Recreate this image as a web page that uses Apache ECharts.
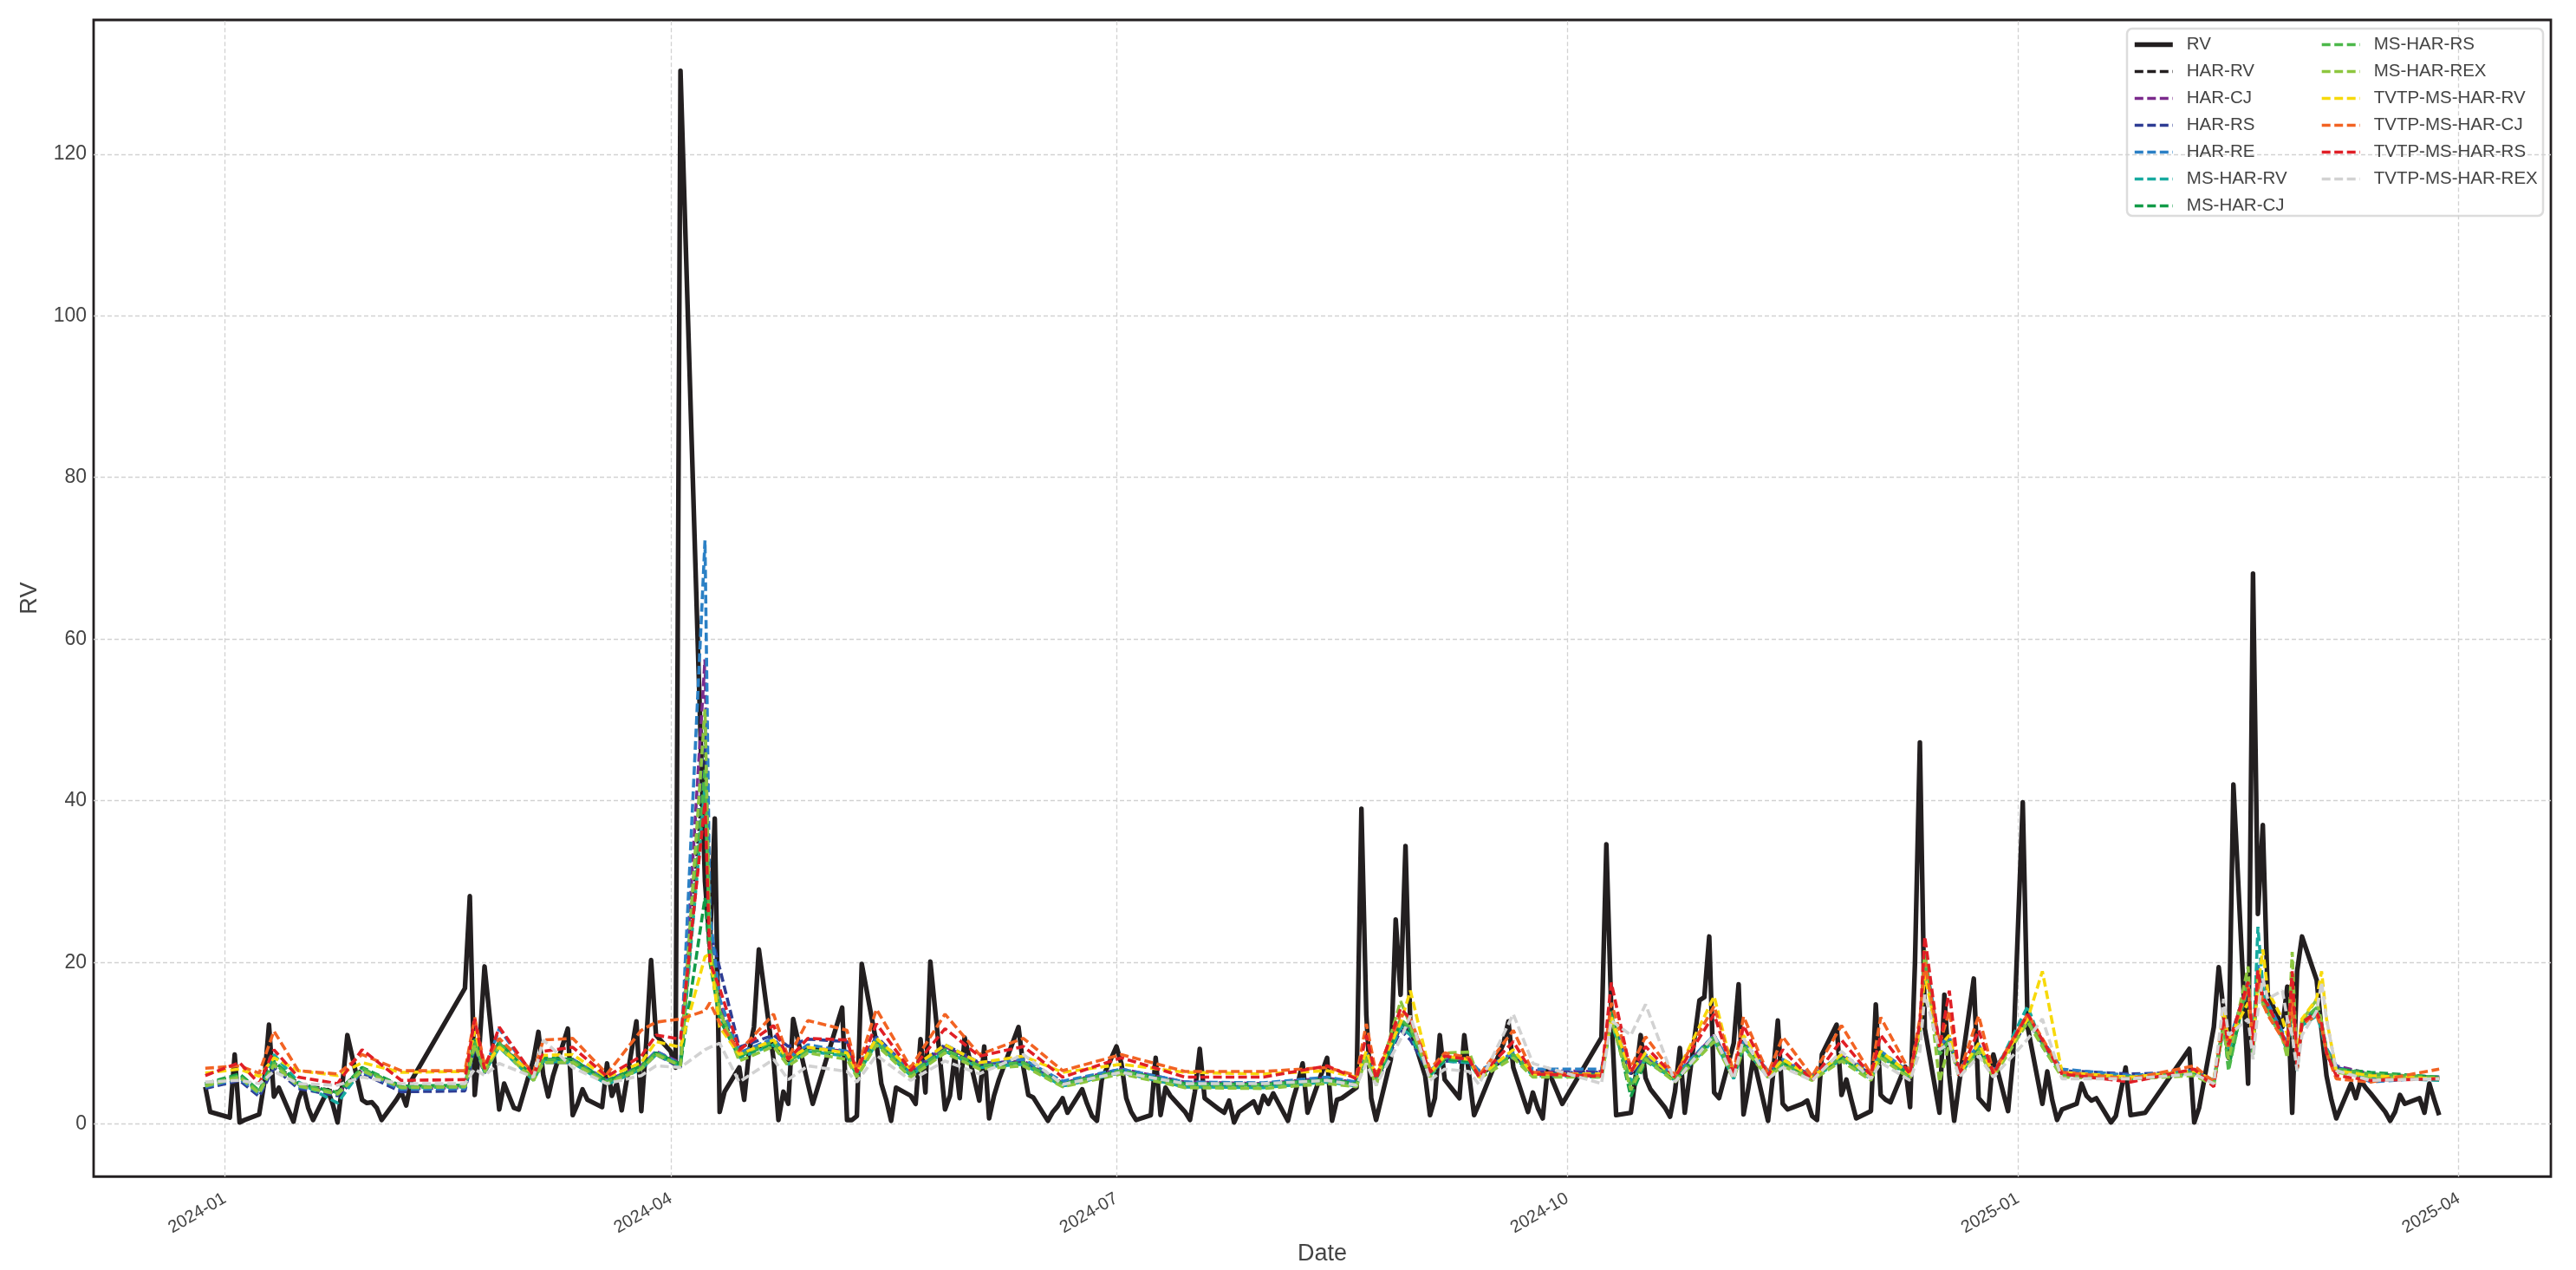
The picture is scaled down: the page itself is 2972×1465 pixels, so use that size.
<!DOCTYPE html>
<html><head><meta charset="utf-8">
<script src="https://cdn.jsdelivr.net/npm/echarts@6/dist/echarts.min.js"></script>
<style>html,body{margin:0;padding:0;background:#fff}#c{width:2972px;height:1465px}</style>
</head><body><div id="c"></div>
<script>
// ---------------- data ----------------
const HOLIDAYS = ['2024-01-01','2024-02-09','2024-02-12','2024-02-13','2024-02-14','2024-02-15','2024-02-16',
 '2024-04-04','2024-04-05','2024-05-01','2024-05-02','2024-05-03','2024-06-10','2024-09-16','2024-09-17',
 '2024-10-01','2024-10-02','2024-10-03','2024-10-04','2024-10-07','2025-01-01','2025-01-28','2025-01-29',
 '2025-01-30','2025-01-31','2025-02-03','2025-02-04'];

// realised volatility, one value per trading day (2023-12-28 .. 2025-03-28)
const RV = [
 4.6,1.5,
 0.8,8.6,0.2,0.5,1.2,5.0,12.3,3.4,4.5,0.3,3.0,4.6,2.0,0.5,4.2,2.5,0.2,5.0,11.0,3.0,2.6,2.7,
 2.0,0.5,3.0,4.0,2.3,5.3,16.8,28.2,3.6,10.0,19.5,1.8,5.0,3.5,2.0,
 1.8,8.0,11.4,6.0,3.4,6.0,11.8,1.1,2.5,4.3,3.0,2.1,7.5,3.5,5.0,1.7,12.7,1.6,10.0,20.3,11.0,
 9.0,7.0,130.3,30.0,22.0,37.8,1.5,4.0,7.0,3.0,9.0,12.0,21.6,8.0,0.5,4.0,2.5,13.0,5.0,2.5,
 14.4,0.5,0.5,1.0,19.8,10.0,5.0,3.0,0.4,4.5,3.5,2.5,10.5,3.9,20.1,1.8,3.5,8.6,3.2,10.7,
 2.9,9.6,0.7,3.5,5.5,12.0,7.0,3.6,3.3,0.4,1.5,2.2,3.2,1.4,4.3,2.5,1.0,0.4,5.5,
 9.6,7.5,3.2,1.5,0.5,1.1,8.2,1.1,4.5,3.5,1.5,0.5,4.0,9.3,3.2,1.8,1.4,2.9,0.2,1.5,2.8,1.4,3.5,
 2.5,3.8,0.4,3.0,5.0,7.5,1.4,6.5,8.2,0.4,3.0,3.2,4.5,39.0,13.5,3.2,0.5,8.0,25.3,16.0,34.4,11.8,
 6.0,1.1,3.2,11.0,5.5,3.2,11.0,6.0,1.1,2.5,10.0,12.7,7.0,1.5,3.9,2.0,0.7,6.8,2.5,
 10.7,34.6,14.0,1.1,1.4,6.0,11.0,5.7,4.3,2.0,0.9,4.0,9.4,1.4,15.3,15.7,23.2,3.9,
 3.2,10.0,17.3,1.2,4.5,8.2,0.4,6.0,12.8,2.5,1.8,2.5,2.9,1.0,0.5,8.6,12.3,3.6,5.5,3.0,0.7,
 1.6,14.8,3.6,3.0,2.7,7.1,2.1,20.0,47.2,11.8,1.4,16.0,6.0,0.4,5.0,18.0,3.2,2.5,1.8,8.6,1.6,8.0,
 39.8,12.0,2.5,6.5,3.0,0.5,1.8,2.5,5.0,3.5,2.9,3.2,0.2,1.0,4.0,7.0,1.1,1.4,
 9.3,0.2,2.0,12.0,19.4,14.0,8.2,42.0,5.0,68.1,26.0,37.0,16.0,12.0,17.0,1.4,18.9,23.2,
 17.8,11.6,6.0,3.0,0.7,5.0,3.2,5.4,4.5,3.8,1.5,0.4,1.5,3.6,2.5,3.2,1.4,5.0,3.0,1.1
];

// forecast series, read at these trading days
const KNOT_DATES = [
 '2023-12-28','2024-01-04','2024-01-08','2024-01-11','2024-01-16','2024-01-24','2024-01-29','2024-02-06','2024-02-19','2024-02-21',
 '2024-02-23','2024-02-26','2024-03-04','2024-03-06','2024-03-12','2024-03-19','2024-03-26','2024-03-29','2024-04-03','2024-04-08',
 '2024-04-09','2024-04-11','2024-04-15','2024-04-22','2024-04-25','2024-04-29','2024-05-07','2024-05-09','2024-05-13','2024-05-20',
 '2024-05-27','2024-06-03','2024-06-12','2024-06-20','2024-07-02','2024-07-15','2024-07-31','2024-08-13','2024-08-19','2024-08-21',
 '2024-08-23','2024-08-28','2024-08-30','2024-09-03','2024-09-06','2024-09-11','2024-09-13','2024-09-20','2024-09-24','2024-10-08',
 '2024-10-10','2024-10-14','2024-10-17','2024-10-23','2024-10-31','2024-11-04','2024-11-06','2024-11-11','2024-11-14','2024-11-20',
 '2024-11-26','2024-12-02','2024-12-04','2024-12-10','2024-12-12','2024-12-13','2024-12-16','2024-12-18','2024-12-20','2024-12-24',
 '2024-12-27','2025-01-03','2025-01-06','2025-01-10','2025-01-24','2025-02-06','2025-02-10','2025-02-12','2025-02-13','2025-02-17',
 '2025-02-18','2025-02-19','2025-02-20','2025-02-21','2025-02-24','2025-02-25','2025-02-26','2025-02-27','2025-02-28','2025-03-03',
 '2025-03-04','2025-03-05','2025-03-07','2025-03-14','2025-03-28'];

const HAR_RV = [5.0,6.0,4.0,7.6,5.0,4.0,6.8,4.5,4.6,10.0, 6.5,9.8,5.6,7.8,7.8,5.3,7.0,8.8,7.4,46, 22,14,8.5,10.2,7.8,9.5,8.6,6.2,10.2,6.2,
 9.4,7.4,7.6,5.0,6.6,5.0,4.9,5.6,5.0,8.6, 5.2,12.0,11.5,6.2,8.0,7.8,6.0,8.6,6.2,6.2, 13.0,6.2,8.2,5.6,10.6,6.2,9.8,6.3,7.6,5.8,
 8.2,6.0,8.6,6.0,11.5,20.0,9.5,10.4,6.4,9.4, 6.2,12.6,10.0,6.2,5.8,6.4,5.2,12.0,9.6,17.0, 9.0,19.0,15.2,14.5,11.0,9.4,15.0,7.0,12.6,13.8,
 12.0,9.0,6.8,6.0,5.6];
const HAR_CJ = [4.8,5.8,3.9,7.4,4.8,3.8,6.6,4.4,4.5,10.5, 6.6,10.0,5.8,8.0,8.0,5.4,7.2,9.0,7.6,57.5, 24,15,8.8,10.5,8.6,9.4,9.0,6.4,10.4,6.4,
 9.6,7.5,7.8,5.1,6.8,5.2,5.0,5.7,5.1,8.8, 5.3,12.4,11.8,6.4,8.2,7.8,6.2,8.8,6.6,6.5, 13.2,6.4,8.4,5.8,11.0,6.4,10.0,6.4,7.8,6.0,
 8.4,6.2,8.8,6.2,11.8,20.5,9.6,10.6,6.6,9.6, 6.6,13.0,10.4,6.6,6.0,6.6,5.4,12.4,9.8,17.4, 9.4,19.6,15.6,14.8,11.2,9.6,15.4,7.2,12.8,14.0,
 12.2,9.2,7.2,6.2,5.8];
const HAR_RS = [4.4,5.4,3.4,7.0,4.4,3.5,6.3,4.0,4.1,9.5, 6.3,9.6,5.6,7.6,7.6,5.2,6.8,8.6,7.0,50, 24,19.3,9.5,11.0,9.6,10.5,10.2,6.8,10.8,6.6,
 9.8,7.6,7.6,4.7,6.4,4.6,4.8,5.4,4.8,8.4, 5.0,11.6,10.4,6.2,7.8,7.6,6.0,8.6,6.3,6.4, 12.8,6.2,8.2,5.6,10.6,6.2,9.8,6.2,7.6,5.7,
 8.2,6.2,8.6,6.0,11.5,19.8,9.4,10.4,6.4,9.4, 6.4,12.6,10.0,6.6,6.2,6.4,5.2,12.2,9.8,17.2, 9.2,19.2,15.4,14.6,11.0,9.4,15.2,7.0,12.6,13.8,
 12.0,9.0,7.0,6.0,5.8];
const HAR_RE = [4.6,5.6,3.7,7.3,4.6,3.7,6.5,4.3,4.4,10.2, 6.5,11.8,5.8,8.0,8.0,5.4,7.0,9.0,7.4,72.2, 26,15.5,8.8,10.6,8.2,9.8,9.0,6.4,10.6,6.4,
 9.8,7.6,8.0,5.3,6.8,5.2,5.1,5.8,5.2,8.8, 5.4,12.2,11.8,6.6,8.2,8.0,6.6,8.8,6.8,6.8, 13.2,6.6,8.6,6.0,11.0,6.6,10.2,6.6,8.0,6.0,
 8.6,6.4,9.0,6.4,12.0,21.0,9.8,10.8,6.8,9.8, 6.6,13.0,10.4,6.8,6.0,6.6,5.4,12.4,10.0,17.6, 9.4,19.8,15.8,15.0,11.4,9.8,15.6,7.4,13.0,14.2,
 12.4,9.4,7.2,5.2,5.8];
const MS_HAR_RV = [4.8,6.0,3.9,8.6,5.2,2.6,6.8,4.5,4.6,10.0, 6.4,9.5,5.4,7.8,7.6,4.9,6.8,8.6,7.2,42, 21,13,8.2,9.8,7.4,9.0,8.4,6.0,10.0,6.0,
 9.0,7.0,7.4,4.7,6.4,4.6,4.5,5.2,4.7,8.4, 5.0,12.0,11.0,6.0,7.8,7.6,5.8,8.4,6.0,5.8, 12.6,5.2,8.0,5.4,10.4,5.6,9.6,5.8,7.4,5.6,
 8.0,5.6,8.4,5.8,11.4,20.5,9.0,10.2,6.0,9.2, 6.0,14.6,9.6,6.0,5.6,6.2,5.0,12.0,9.0,16.8, 8.6,24.4,17.0,13.8,10.6,9.0,14.6,6.6,12.2,13.4,
 11.6,8.6,6.6,5.8,5.4];
const MS_HAR_CJ = [5.0,6.2,4.1,7.8,5.0,3.9,7.0,4.7,4.8,10.5, 6.7,10.2,5.7,8.2,8.0,5.3,7.2,8.8,7.4,28, 20,13,8.4,10.0,7.8,9.2,8.6,6.2,10.2,6.2,
 9.2,7.2,7.6,5.0,6.6,5.0,4.9,5.5,5.0,8.6, 5.2,12.6,11.6,6.2,8.0,7.8,6.0,8.6,6.2,6.0, 14.0,3.4,7.8,5.5,10.8,6.0,9.8,6.0,7.6,5.8,
 8.2,5.8,8.6,6.0,11.6,20.8,8.8,10.4,6.2,9.4, 6.2,13.0,10.0,6.2,5.8,6.4,5.2,12.4,7.0,17.6, 8.8,18.8,15.0,14.0,11.0,8.6,16.8,6.8,12.6,14.0,
 12.0,9.0,6.8,6.4,5.8];
const MS_HAR_RS = [4.9,6.0,4.0,7.6,4.9,3.9,6.9,4.6,4.7,10.2, 6.6,10.0,5.6,8.0,7.8,5.2,7.0,8.8,7.2,44, 22,14,8.5,10.2,7.8,9.2,8.6,6.2,10.2,6.2,
 9.2,7.2,7.6,4.9,6.6,4.8,4.8,5.4,4.9,8.6, 5.1,13.0,11.8,6.2,8.2,8.0,6.0,8.6,6.2,6.0, 13.6,4.6,8.2,5.6,10.8,6.0,9.8,6.0,7.6,5.8,
 8.2,5.8,8.6,6.0,11.6,21.0,8.6,10.4,6.2,9.4, 6.2,13.2,10.0,6.2,5.8,6.4,5.2,12.4,6.6,18.0, 8.8,19.0,15.2,14.2,11.0,8.8,17.4,6.8,12.8,14.4,
 12.2,9.2,6.8,6.2,5.8];
const MS_HAR_REX = [4.7,5.8,3.8,7.3,4.7,3.7,6.6,4.5,4.6,9.8, 6.4,9.6,5.4,7.6,7.6,5.0,6.8,8.6,7.2,51.3, 22,14,7.8,9.6,7.2,8.8,8.0,5.8,9.8,5.8,
 8.8,6.8,7.2,4.6,6.2,4.5,4.4,5.0,4.6,8.2, 4.8,15.2,12.2,5.8,8.8,8.9,5.6,8.2,5.8,5.8, 13.0,4.2,8.0,5.2,10.2,5.6,9.4,5.8,7.2,5.4,
 7.8,5.4,8.2,5.6,11.2,21.5,5.2,10.0,5.8,9.0, 5.8,12.6,9.6,5.8,5.6,6.0,4.8,12.0,8.0,19.5, 8.6,18.6,14.8,13.8,10.6,8.2,21.3,6.6,12.8,15.4,
 12.6,9.0,6.4,5.8,5.6];
const TVTP_MS_HAR_RV = [6.3,6.8,5.9,8.2,6.6,6.0,7.6,6.4,6.5,11.5, 7.2,9.5,6.2,8.5,8.6,5.8,7.6,10.2,9.5,20.7, 21,12,8.6,10.4,8.0,9.5,8.8,6.5,10.6,6.8,
 9.8,7.6,8.4,6.4,7.4,6.4,6.2,6.6,5.8,9.0, 6.0,12.5,16.5,6.4,8.4,8.0,5.8,9.2,6.2,6.2, 13.2,6.4,8.8,5.8,15.8,6.2,11.0,6.0,8.0,5.8,
 8.6,6.0,9.0,6.2,11.8,18.5,9.6,11.0,6.2,10.0, 6.2,13.0,18.9,6.4,5.8,6.6,5.4,14.2,10.4,15.0, 10.0,17.0,21.6,16.5,13.0,11.0,14.8,8.2,13.0,15.5,
 18.9,13.0,6.6,6.0,5.6];
const TVTP_MS_HAR_CJ = [6.9,7.2,6.3,11.5,6.6,6.2,8.6,6.6,6.6,13.2, 7.3,10.6,6.4,10.4,10.6,6.2,11.6,12.6,13.0,14, 15,12.5,9.0,13.6,8.2,12.8,11.6,6.6,14.2,7.0,
 13.6,8.6,10.6,6.6,8.6,6.5,6.5,7.0,6.0,12.4, 6.2,13.5,13.0,6.8,8.8,8.2,6.0,11.6,6.4,6.0, 15.0,7.0,10.8,6.0,14.6,6.4,13.3,6.2,10.8,5.9,
 12.2,6.2,13.2,6.4,13.0,20.0,9.8,14.0,6.2,13.4, 6.4,13.6,10.6,6.4,5.6,7.2,5.2,13.0,9.6,17.0, 9.8,18.6,15.0,13.5,10.6,9.6,15.6,7.0,12.4,13.4,
 12.0,8.8,5.6,5.2,6.8];
const TVTP_MS_HAR_RS = [6.0,7.6,5.0,9.2,5.8,5.0,9.2,5.4,5.5,13.0, 6.8,12.0,6.0,9.0,9.5,5.9,8.4,11.0,10.5,39.8, 20,16.8,9.2,12.2,8.0,10.6,10.4,6.4,12.4,6.6,
 11.8,8.4,9.6,5.8,8.2,5.8,5.8,7.2,5.6,11.0, 5.6,14.3,13.0,6.4,8.4,8.0,5.8,10.2,6.2,5.9, 17.5,6.4,9.6,5.8,13.6,6.0,12.2,6.0,9.2,5.4,
 10.4,6.0,11.0,6.2,12.4,23.2,9.5,16.5,6.0,11.6, 6.2,13.6,10.4,6.2,5.2,6.8,4.6,13.2,9.8,17.6, 9.6,19.0,15.6,14.8,11.0,9.6,18.9,6.8,12.6,13.8,
 12.4,8.8,6.0,5.4,5.6];
const TVTP_MS_HAR_REX = [5.2,5.4,5.0,6.5,5.0,4.8,5.8,5.0,5.0,6.8, 6.0,7.5,5.8,10.4,7.0,5.0,6.0,7.2,7.0,9.2, 9.5,10,5.2,8.0,5.5,7.2,6.5,5.2,8.5,5.4,
 7.8,6.2,8.6,4.9,6.4,5.0,5.0,5.4,4.8,7.5, 4.8,10.5,13.4,5.4,6.8,6.5,4.9,13.6,7.5,5.0, 12.8,11.0,14.8,5.2,11.0,5.6,10.6,5.6,7.0,5.4,
 9.0,5.6,7.6,5.4,9.0,16.0,9.2,10.0,5.8,8.4, 5.8,10.5,13.0,5.6,5.6,6.2,5.0,15.5,11.0,13.0, 8.0,14.0,18.0,15.5,16.5,13.0,11.0,6.6,11.0,14.0,
 17.5,13.0,6.6,5.4,5.6];

const X_TICK_DATES = ['2024-01-01','2024-04-01','2024-07-01','2024-10-01','2025-01-01','2025-04-01'];
const X_TICK_LABELS = ['2024-01','2024-04','2024-07','2024-10','2025-01','2025-04'];
const Y_TICKS = [0,20,40,60,80,100,120];

// ---------------- build ----------------
function dayNum(s){const p=s.split('-').map(Number);return (Date.UTC(p[0],p[1]-1,p[2])-Date.UTC(2024,0,1))/864e5;}
const hol = new Set(HOLIDAYS);
const tradeDays = [];
for (let t=Date.UTC(2023,11,28); t<=Date.UTC(2025,2,28); t+=864e5){
  const dt=new Date(t), wd=dt.getUTCDay();
  if (wd===0||wd===6) continue;
  const s=dt.toISOString().slice(0,10);
  if (hol.has(s)) continue;
  tradeDays.push(s);
}
const rvData = RV.map((v,i)=>[dayNum(tradeDays[i]), v]);
const knotX = KNOT_DATES.map(dayNum);
const xTicks = X_TICK_DATES.map(dayNum);
const FONT = "'Liberation Sans', Arial, sans-serif";

const FORECASTS = [
 ['HAR-RV', HAR_RV, '#231f20'],
 ['HAR-CJ', HAR_CJ, '#7b2a8c'],
 ['HAR-RS', HAR_RS, '#2e3d94'],
 ['HAR-RE', HAR_RE, '#2b80c5'],
 ['MS-HAR-RV', MS_HAR_RV, '#17aa9f'],
 ['MS-HAR-CJ', MS_HAR_CJ, '#129b48'],
 ['MS-HAR-RS', MS_HAR_RS, '#4cb84a'],
 ['MS-HAR-REX', MS_HAR_REX, '#8dc63f'],
 ['TVTP-MS-HAR-RV', TVTP_MS_HAR_RV, '#f7d90b'],
 ['TVTP-MS-HAR-CJ', TVTP_MS_HAR_CJ, '#f26323'],
 ['TVTP-MS-HAR-RS', TVTP_MS_HAR_RS, '#e01f26'],
 ['TVTP-MS-HAR-REX', TVTP_MS_HAR_REX, '#d2d2d2']
];

const series = [
 {type:'line', name:'_grid', data:[], silent:true, z:1,
  markLine:{silent:true, symbol:'none', animation:false, label:{show:false},
   lineStyle:{color:'#d2d2d2', width:1.3, type:[5,3]},
   data:[...Y_TICKS.map(v=>({yAxis:v})), ...xTicks.map(v=>({xAxis:v}))]}},
 {type:'line', name:'RV', data:rvData, showSymbol:false, symbol:'none', z:5,
  lineStyle:{color:'#231f20', width:5.4, join:'round'}, itemStyle:{color:'#231f20'}}
];
FORECASTS.forEach((f,i)=>{
  series.push({type:'line', name:f[0], data:f[1].map((v,j)=>[knotX[j], v]), showSymbol:false, symbol:'none', z:6+i,
    lineStyle:{color:f[2], width:3.6, type:[10,4.5]}, itemStyle:{color:f[2]}});
});

const legendText = {fontFamily:FONT, fontSize:20.5, color:'#444', lineHeight:20, padding:[0,0,0,11]};
const legItem = (n)=>({name:n, lineStyle:{width: n==='RV' ? 5.6 : 3.4}});
const option = {
  animation:false,
  backgroundColor:'#ffffff',
  grid:{left:108, right:29, top:23, bottom:104, show:true, borderColor:'#231f20', borderWidth:2.8, backgroundColor:'transparent'},
  xAxis:{type:'value', min:-26.8, max:474.8, name:'Date', nameLocation:'middle', nameGap:70,
    nameTextStyle:{fontFamily:FONT, fontSize:27, color:'#444'},
    axisLine:{show:false}, axisTick:{show:false}, splitLine:{show:false},
    axisLabel:{customValues:xTicks, rotate:30, margin:24, fontFamily:FONT, fontSize:20, color:'#444',
      formatter:(v)=>{const k=xTicks.findIndex(t=>Math.abs(t-v)<0.01);return k>=0?X_TICK_LABELS[k]:'';}}},
  yAxis:{type:'value', min:-6.5, max:136.6, name:'RV', nameLocation:'middle', nameGap:60, nameRotate:90,
    nameTextStyle:{fontFamily:FONT, fontSize:27, color:'#444'},
    axisLine:{show:false}, axisTick:{show:false}, splitLine:{show:false},
    axisLabel:{customValues:Y_TICKS, margin:8, fontFamily:FONT, fontSize:23, color:'#444'}},
  graphic:[{type:'rect', z:3, shape:{x:2454, y:33, width:480, height:216, r:6},
    style:{fill:'rgba(255,255,255,0.85)', stroke:'#dcdcdc', lineWidth:2.5}}],
  legend:[
    {orient:'vertical', left:2460, top:41, padding:0, itemWidth:44, itemHeight:14, itemGap:10, z:10,
     itemStyle:{opacity:0}, lineStyle:{width:3.4},
     data:['RV','HAR-RV','HAR-CJ','HAR-RS','HAR-RE','MS-HAR-RV','MS-HAR-CJ'].map(legItem), textStyle:legendText},
    {orient:'vertical', left:2677, top:41, padding:0, itemWidth:44, itemHeight:14, itemGap:10, z:10,
     itemStyle:{opacity:0}, lineStyle:{width:3.4},
     data:['MS-HAR-RS','MS-HAR-REX','TVTP-MS-HAR-RV','TVTP-MS-HAR-CJ','TVTP-MS-HAR-RS','TVTP-MS-HAR-REX'].map(legItem), textStyle:legendText}
  ],
  series
};
const chart = echarts.init(document.getElementById('c'), null, {renderer:'canvas'});
chart.setOption(option);
</script></body></html>
